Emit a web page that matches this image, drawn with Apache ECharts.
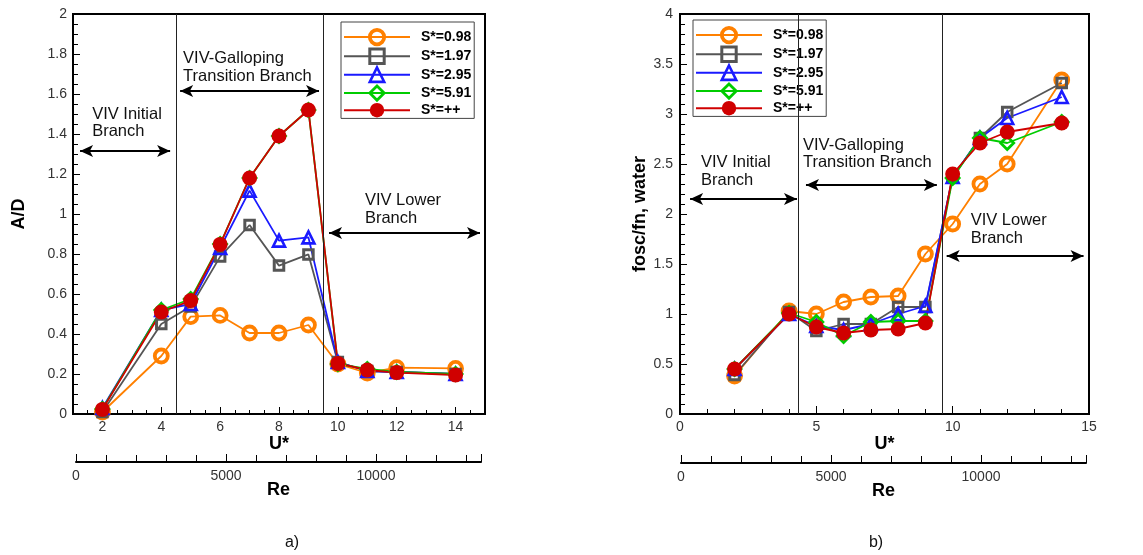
<!DOCTYPE html>
<html>
<head>
<meta charset="utf-8">
<script src="https://cdn.jsdelivr.net/npm/echarts@6/dist/echarts.min.js"></script>
<style>
  html, body { margin: 0; padding: 0; background: #fff; }
  #chart { width: 1143px; height: 555px; }
</style>
</head>
<body>
<div id="chart"></div>
<script>
// Reduced velocity values where runs were made
const uStar = [2, 4, 5, 6, 7, 8, 9, 10, 11, 12, 14];
const seriesNames = ['S*=0.98', 'S*=1.97', 'S*=2.95', 'S*=5.91', 'S*=++'];

// a) amplitude ratio A/D
const ampS098 = [0.01, 0.29, 0.487, 0.493, 0.405, 0.405, 0.445, 0.25, 0.205, 0.232, 0.228];
const ampS197 = [0.01, 0.45, 0.537, 0.787, 0.945, 0.742, 0.798, 0.26, 0.215, 0.21, 0.2];
const ampS295 = [0.03, 0.52, 0.55, 0.83, 1.117, 0.867, 0.883, 0.26, 0.215, 0.21, 0.2];
const ampS591 = [0.025, 0.52, 0.575, 0.85, 1.18, 1.39, 1.52, 0.25, 0.225, 0.21, 0.2];
const ampSinf = [0.023, 0.51, 0.567, 0.848, 1.18, 1.39, 1.52, 0.253, 0.22, 0.207, 0.195];

// b) frequency ratio fosc/fn in water
const frqS098 = [0.38, 1.03, 1.0, 1.12, 1.17, 1.18, 1.6, 1.9, 2.3, 2.5, 3.34];
const frqS197 = [0.39, 1.02, 0.83, 0.9, 0.9, 1.07, 1.07, 2.37, 2.76, 3.02, 3.31];
const frqS295 = [0.45, 1.0, 0.88, 0.84, 0.9, 1.0, 1.08, 2.37, 2.76, 2.96, 3.17];
const frqS591 = [0.45, 1.01, 0.92, 0.78, 0.92, 0.93, 0.93, 2.36, 2.76, 2.71, 2.92];
const frqSinf = [0.45, 1.0, 0.87, 0.81, 0.84, 0.85, 0.91, 2.4, 2.71, 2.82, 2.91];

// Branch boundaries (U*) in each panel
const ampBounds = [4.5, 9.5];
const frqBounds = [4.35, 9.6];

// Tick values
const ampMajorU = [2, 4, 6, 8, 10, 12, 14];
const reLabels = [0, 5000, 10000];

const FONT = "'Liberation Sans', Arial, sans-serif";
const NONE = 'rgba(255,255,255,0)';
const styles = [
  { color: '#ff8000', symbol: 'circle',   size: 13,  fill: NONE,      border: 3.8 },
  { color: '#555555', symbol: 'rect',     size: 9.5, fill: NONE,      border: 3 },
  { color: '#1a1aff', symbol: 'triangle', size: 12,  fill: NONE,      border: 2.6 },
  { color: '#00cc00', symbol: 'diamond',  size: 13,  fill: NONE,      border: 2.8 },
  { color: '#d00000', symbol: 'circle',   size: 15,  fill: '#d00000', border: 0 }
];

// Annotation layout in data coordinates
const ampNotes = [
  { text: 'VIV Initial\nBranch', at: [1.65, 1.455], from: [1.24, 1.315], to: [4.30, 1.315] },
  { text: 'VIV-Galloping\nTransition Branch', at: [4.74, 1.733], from: [4.64, 1.615], to: [9.36, 1.615] },
  { text: 'VIV Lower\nBranch', at: [10.92, 1.022], from: [9.70, 0.905], to: [14.83, 0.905] }
];
const frqNotes = [
  { text: 'VIV Initial\nBranch', at: [0.77, 2.425], from: [0.37, 2.15], to: [4.29, 2.15] },
  { text: 'VIV-Galloping\nTransition Branch', at: [4.51, 2.6], from: [4.62, 2.29], to: [9.42, 2.29] },
  { text: 'VIV Lower\nBranch', at: [10.66, 1.845], from: [9.78, 1.58], to: [14.8, 1.58] }
];

function lineSeries(name, vals, st, xi, yi) {
  return {
    type: 'line', name: name, xAxisIndex: xi, yAxisIndex: yi,
    data: uStar.map((u, i) => [u, vals[i]]),
    symbol: st.symbol, symbolSize: st.size, showAllSymbol: true,
    lineStyle: { color: st.color, width: 1.8 },
    itemStyle: { color: st.fill, borderColor: st.color, borderWidth: st.border },
    emphasis: { disabled: true },
    animation: false
  };
}

function guideSeries(xi, yi, bounds, notes) {
  const data = bounds.map(b => ({ xAxis: b, symbol: 'none', lineStyle: { color: '#222', width: 1 } }));
  notes.forEach(n => {
    data.push([
      { coord: n.from, symbol: 'arrow', symbolSize: [9, 13], lineStyle: { color: '#000', width: 2 } },
      { coord: n.to, symbol: 'arrow', symbolSize: [9, 13] }
    ]);
  });
  return {
    type: 'line', xAxisIndex: xi, yAxisIndex: yi, data: [], silent: true, animation: false,
    markLine: {
      silent: true, animation: false, symbol: ['none', 'none'],
      label: { show: false }, emphasis: { disabled: true },
      lineStyle: { type: 'solid', color: '#000' },
      data: data
    }
  };
}

const tickLabel = { color: '#333', fontFamily: FONT, fontSize: 14 };
const nameStyle = { color: '#000', fontFamily: FONT, fontSize: 18, fontWeight: 'bold' };
const blackLine = { show: true, lineStyle: { color: '#000', width: 2 } };

function legendAt(left, top) {
  return {
    orient: 'vertical', left: left, top: top,
    data: seriesNames.map((n, i) => ({
      name: n,
      itemStyle: { borderWidth: styles[i].border }
    })),
    itemWidth: 66, itemHeight: 18, itemGap: 1.3,
    padding: [6, 3, 1, 2],
    borderColor: '#444', borderWidth: 1, backgroundColor: '#fff',
    selectedMode: false,
    textStyle: { color: '#000', fontFamily: FONT, fontSize: 14, fontWeight: 'bold', padding: [0, 0, 0, 6] }
  };
}

function reAxis(gridIndex) {
  return {
    type: 'value', gridIndex: gridIndex, min: 0, max: 13500, interval: 5000, position: 'bottom',
    axisLine: blackLine,
    axisTick: { inside: true, length: 8, lineStyle: { color: '#000', width: 1 } },
    minorTick: { show: true, splitNumber: 5, length: 7, lineStyle: { color: '#000', width: 1 } },
    axisLabel: { margin: 7, customValues: reLabels, formatter: v => String(v), ...tickLabel },
    splitLine: { show: false },
    name: 'Re', nameLocation: 'middle', nameGap: 19, nameMoveOverlap: false, nameTextStyle: nameStyle
  };
}

const chart = echarts.init(document.getElementById('chart'), null, { renderer: 'canvas' });

const option = {
  animation: false,
  backgroundColor: '#fff',
  grid: [
    { left: 73, top: 14, width: 412, height: 400, show: true, borderColor: '#000', borderWidth: 2 },
    { left: 76, top: 461, width: 405, height: 1 },
    { left: 680, top: 14, width: 409, height: 400, show: true, borderColor: '#000', borderWidth: 2 },
    { left: 681, top: 462, width: 405, height: 1 }
  ],
  xAxis: [
    { // a) U*
      type: 'value', gridIndex: 0, min: 1, max: 15,
      axisLine: blackLine,
      axisTick: { inside: true, length: 7, customValues: ampMajorU, lineStyle: { color: '#000', width: 1 } },
      axisLabel: { customValues: ampMajorU, margin: 6, ...tickLabel },
      splitLine: { show: false },
      name: 'U*', nameLocation: 'middle', nameGap: 21, nameMoveOverlap: false, nameTextStyle: nameStyle
    },
    { // a) minor U* ticks
      type: 'value', gridIndex: 0, min: 1, max: 15, interval: 0.5, position: 'bottom',
      axisLine: { show: false },
      axisTick: { inside: true, length: 4, lineStyle: { color: '#000', width: 1 } },
      axisLabel: { show: false }, splitLine: { show: false }
    },
    reAxis(1),
    { // b) U*
      type: 'value', gridIndex: 2, min: 0, max: 15, interval: 5,
      axisLine: blackLine,
      axisTick: { inside: true, length: 8, lineStyle: { color: '#000', width: 1 } },
      minorTick: { show: true, splitNumber: 5, length: 5, lineStyle: { color: '#000', width: 1 } },
      axisLabel: { margin: 6, ...tickLabel },
      splitLine: { show: false },
      name: 'U*', nameLocation: 'middle', nameGap: 21, nameMoveOverlap: false, nameTextStyle: nameStyle
    },
    reAxis(3)
  ],
  yAxis: [
    {
      type: 'value', gridIndex: 0, min: 0, max: 2, interval: 0.2,
      axisLine: blackLine,
      axisTick: { inside: true, length: 7, lineStyle: { color: '#000', width: 1 } },
      minorTick: { show: true, splitNumber: 4, length: 5, lineStyle: { color: '#000', width: 1 } },
      axisLabel: { margin: 6, ...tickLabel },
      splitLine: { show: false },
      name: 'A/D', nameLocation: 'middle', nameGap: 45, nameTextStyle: nameStyle
    },
    { type: 'value', gridIndex: 1, show: false },
    {
      type: 'value', gridIndex: 2, min: 0, max: 4, interval: 0.5,
      axisLine: blackLine,
      axisTick: { inside: true, length: 7, lineStyle: { color: '#000', width: 1 } },
      minorTick: { show: true, splitNumber: 5, length: 5, lineStyle: { color: '#000', width: 1 } },
      axisLabel: { margin: 7, ...tickLabel },
      splitLine: { show: false },
      name: 'fosc/fn, water', nameLocation: 'middle', nameGap: 31, nameTextStyle: nameStyle
    },
    { type: 'value', gridIndex: 3, show: false }
  ],
  legend: [legendAt(341, 22), legendAt(693, 20)],
  series: [
    guideSeries(0, 0, ampBounds, ampNotes),
    lineSeries(seriesNames[0], ampS098, styles[0], 0, 0),
    lineSeries(seriesNames[1], ampS197, styles[1], 0, 0),
    lineSeries(seriesNames[2], ampS295, styles[2], 0, 0),
    lineSeries(seriesNames[3], ampS591, styles[3], 0, 0),
    lineSeries(seriesNames[4], ampSinf, styles[4], 0, 0),
    guideSeries(3, 2, frqBounds, frqNotes),
    lineSeries(seriesNames[0], frqS098, styles[0], 3, 2),
    lineSeries(seriesNames[1], frqS197, styles[1], 3, 2),
    lineSeries(seriesNames[2], frqS295, styles[2], 3, 2),
    lineSeries(seriesNames[3], frqS591, styles[3], 3, 2),
    lineSeries(seriesNames[4], frqSinf, styles[4], 3, 2)
  ]
};

chart.setOption(option);

// Branch labels, placed through the panels' own coordinate systems
const noteStyle = { fill: '#111', fontFamily: FONT, fontSize: 16.5, lineHeight: 17.5, textVerticalAlign: 'middle' };
const graphics = [];
[[0, ampNotes], [2, frqNotes]].forEach(([gi, notes]) => {
  notes.forEach(n => {
    const p = chart.convertToPixel({ gridIndex: gi }, n.at);
    graphics.push({ type: 'text', x: p[0], y: p[1], silent: true, z: 10,
      style: Object.assign({ text: n.text, textAlign: 'left' }, noteStyle) });
  });
});
// Panel captions
const capStyle = { fill: '#111', fontFamily: FONT, fontSize: 16, textAlign: 'center', textVerticalAlign: 'middle' };
graphics.push({ type: 'text', x: 292, y: 543, silent: true, style: Object.assign({ text: 'a)' }, capStyle) });
graphics.push({ type: 'text', x: 876, y: 543, silent: true, style: Object.assign({ text: 'b)' }, capStyle) });
chart.setOption({ graphic: graphics });
</script>
</body>
</html>
